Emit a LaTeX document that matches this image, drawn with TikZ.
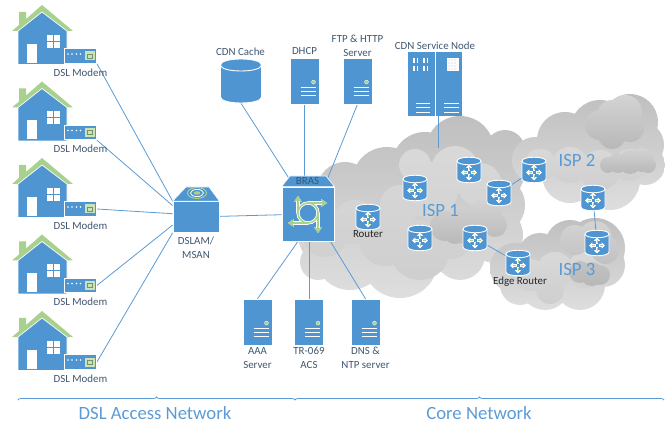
\documentclass[tikz,border=0pt]{standalone}
\usepackage{fontspec}
\setmainfont{Carlito}
\usetikzlibrary{arrows.meta,backgrounds,calc,decorations.pathreplacing}

\definecolor{NetBlue}{HTML}{4F95D1}
\definecolor{LinkBlue}{HTML}{5B9BD5}
\definecolor{RoofGreen}{HTML}{A9D18E}
\definecolor{LabelSlate}{HTML}{3F5670}

\newcommand{\CanBody}[3]{%
\filldraw [fill=NetBlue,draw=white,line width=.9pt] (-#1,-#2) -- (-#1,#2) .. controls (-#1,#2+#3) and (#1,#2+#3) .. (#1,#2) -- (#1,-#2) .. controls (#1,-#2-#3) and (-#1,-#2-#3) .. cycle;
\draw [white,line width=.9pt] (-#1,-#2) .. controls (-#1,-#2+#3) and (#1,-#2+#3) .. (#1,-#2);}

\tikzset{
linkline/.style={draw=LinkBlue,line width=.8pt},
modembox/.style={rectangle,fill=NetBlue,draw=white,line width=.8pt,minimum width=32pt,minimum height=14.5pt,inner sep=0pt},
serverbox/.style={rectangle,fill=NetBlue,draw=white,line width=.4pt,minimum width=29pt,minimum height=46pt,inner sep=0pt},
routerbox/.style={rectangle,minimum width=25pt,minimum height=25pt,inner sep=0pt},
netlabel/.style={font=\fontsize{10.9pt}{14pt}\selectfont,text=LabelSlate,align=center,inner sep=0pt},
routerlabel/.style={font=\fontsize{10.9pt}{12pt}\selectfont,text=black!85,inner sep=0pt},
ispname/.style={font=\fontsize{18.7pt}{20pt}\selectfont,text=LinkBlue,inner sep=0pt},
cloudouter/.style={top color=black!25,bottom color=black!13},
cloudinner/.style={top color=black!15,bottom color=black!19},
clouddark/.style={top color=black!17,bottom color=black!28},
bracket/.style={draw=LinkBlue,line width=.8pt,decorate,decoration={brace,amplitude=3pt,mirror}},
}

\begin{document}
\begin{tikzpicture}[x=1pt,y=-1pt]
\useasboundingbox (0,0) rectangle (665,425);

% clients
\foreach \i in {1,...,5} {
\pgfmathsetmacro{\dy}{(\i-1)*76.5}
\begin{scope}[yshift=-\dy pt]
\fill [RoofGreen] (12,31) -- (19,25) -- (19,12) -- (26,12) -- (26,19) -- (42,5) -- (73,31) -- cycle;
\fill [NetBlue,draw=white,line width=.7pt] (18,64.5) -- (18,31) -- (42,12) -- (67,31) -- (67,64.5) -- cycle;
\fill [white] (27,44) rectangle (37,63);
\foreach \wx/\wy in {47/35,54/35,47/42,54/42} \fill [white] (\wx,\wy) rectangle ++(6,6);
\node [modembox] (Modem\i) at (80.5,56) {};
\foreach \lx in {68,72,76.5,80.5} \fill [white] (\lx,54) circle (.8);
\fill [RoofGreen!60!white] (85,51.5) rectangle (94.5,60.5);
\draw [RoofGreen!70!black,line width=.3pt] (87.5,54) rectangle (92,58);
\node [netlabel] (ModemLabel\i) at (80.5,72.5) {DSL Modem};
\end{scope}
}

% access node
\node [rectangle,fill=NetBlue,draw=white,line width=.8pt,minimum width=46pt,minimum height=31pt,inner sep=0pt] (Dslam) at (196,217) {};
\filldraw [fill=NetBlue,draw=white,line width=.6pt] (Dslam.north west) -- (186,187) -- (209,187) -- (Dslam.north east) -- cycle;
\draw [RoofGreen,line width=1pt] (197,193) ellipse (9.5 and 5.5);
\draw [white,line width=.8pt] (197,193) ellipse (6.5 and 3.6);
\fill [RoofGreen] (197,193) ellipse (3.4 and 1.8);
\node [netlabel,anchor=north] (DslamLabel) at (196,236.5) {DSLAM/\\MSAN};

% bras
\node [rectangle,fill=NetBlue,draw=white,line width=.8pt,minimum width=52pt,minimum height=54pt,inner sep=0pt] (Bras) at (308,214) {};
\filldraw [fill=NetBlue,draw=white,line width=.6pt] (Bras.north west) -- (290,176) -- (326,176) -- (Bras.north east) -- cycle;
\coordinate (BrasTopLeft) at (290,180);
\coordinate (BrasTopRight) at (327,180);
\node [netlabel,text=NetBlue!60!black] (BrasLabel) at (307.5,181.5) {BRAS};
\foreach \lw/\lc in {3.2/white,1.5/RoofGreen} {
\draw [\lc,line width=\lw pt] (308,213) circle (10);
\draw [\lc,line width=\lw pt,-{Stealth[length=6pt,width=8pt]}] (298,213) -- (298,196);
\draw [\lc,line width=\lw pt,-{Stealth[length=6pt,width=8pt]}] (308,203) -- (327,203);
\draw [\lc,line width=\lw pt,-{Stealth[length=6pt,width=8pt]}] (308,223) -- (288,223);
\draw [\lc,line width=\lw pt,-{Stealth[length=6pt,width=8pt]}] (318,213) -- (318,233);
}

% servers
\node [rectangle,minimum width=41pt,minimum height=44pt,inner sep=0pt] (CdnCache) at (241,81) {};
\begin{scope}[shift={(CdnCache.center)}]
\CanBody{20.5}{16}{8}
\end{scope}
\node [netlabel] (CdnCacheLabel) at (240.5,51.5) {CDN Cache};
\node [serverbox] (Dhcp) at (304.5,81) {};
\node [netlabel] (DhcpLabel) at (304.5,51.5) {DHCP};
\node [serverbox] (FtpHttp) at (357.5,81) {};
\node [netlabel,anchor=south] (FtpHttpLabel) at (357.5,57) {FTP \& HTTP\\Server};
\node [serverbox] (Aaa) at (257.5,322) {};
\node [netlabel,anchor=north] (AaaLabel) at (257.5,347) {AAA\\Server};
\node [serverbox] (Tr069) at (309,322) {};
\node [netlabel,anchor=north] (Tr069Label) at (309,347) {TR-069\\ACS};
\node [serverbox] (Dns) at (365.5,322) {};
\node [netlabel,anchor=north] (DnsLabel) at (365.5,347) {DNS \&\\NTP server};
\foreach \srv in {Dhcp,FtpHttp,Aaa,Tr069,Dns} {
\begin{scope}[shift={(\srv.north west)}]
\fill [RoofGreen,draw=white,line width=.3pt] (23.7,24.3) circle (2);
\foreach \ly in {30,34,38} \draw [white,line width=.9pt] (10.7,\ly) -- (25.7,\ly);
\end{scope}
}

% service node
\node [rectangle,fill=NetBlue,minimum width=27pt,minimum height=64pt,inner sep=0pt] (CdnLeft) at (421.5,84) {};
\node [rectangle,fill=NetBlue,minimum width=26.5pt,minimum height=64pt,inner sep=0pt] (CdnRight) at (449,84) {};
\foreach \ly in {103,107.5,112} {
\draw [white,line width=.9pt] (416,\ly) -- (430,\ly);
\draw [white,line width=.9pt] (444,\ly) -- (459,\ly);
}
\foreach \lx in {413,416.5,423,426.5} \foreach \ly in {58,66} \fill [white] (\lx,\ly) rectangle ++(1.5,5);
\fill [white] (447,58) rectangle (459,71);
\foreach \lx in {449,452,455} \foreach \ly in {60,63,66,69} \fill [black!25] (\lx,\ly) circle (.6);
\node [netlabel] (CdnNodeLabel) at (435,45.5) {CDN Service Node};
\coordinate (CdnCore) at (438,148);

% routers
\foreach \i/\rx/\ry in {1/368/217,2/415/188,3/469/170,4/499/193,5/534/170,6/420/238,7/475/238,8/518/263,9/593/198,10/597/243} {
\node [routerbox] (Router\i) at (\rx,\ry) {};
\begin{scope}[shift={(Router\i.center)}]
\CanBody{12}{9}{5}
\foreach \ang in {0,90,180,270} {
\begin{scope}[yshift=-2.5pt,rotate=\ang]
\draw [white,line width=2.4pt,-{Triangle[length=3.4pt,width=6pt]}] (1.5,0) -- (8,0);
\draw [RoofGreen,line width=.8pt] (2.5,0) -- (5.5,0);
\end{scope}
}
\end{scope}
}
\node [routerlabel] (RouterLabel) at (368,234) {Router};
\node [routerlabel] (EdgeRouterLabel) at (520,281.5) {Edge Router};
\node [ispname] (Isp1) at (440.5,210) {ISP 1};
\node [ispname] (Isp2) at (577,160) {ISP 2};
\node [ispname] (Isp3) at (577,269) {ISP 3};

% network parts
\coordinate (AccessLeft) at (18,400);
\coordinate (AccessRight) at (295,400);
\coordinate (CoreRight) at (664,400);
\draw [bracket] (AccessRight) -- (AccessLeft);
\draw [bracket] (CoreRight) -- (AccessRight);
\node [ispname] (AccessLabel) at (155,413) {DSL Access Network};
\node [ispname] (CoreLabel) at (479,413) {Core Network};

\begin{scope}[on background layer]
% clouds
\shade [cloudouter] foreach \cx/\cy/\cr in {330/235/32,345/190/28,387/182/35,425/165/33,460/150/34,490/170/35,495/205/30,495/235/28,460/255/25,400/260/38,350/255/35,430/210/60,318/262/18,505/150/20} {(\cx,\cy) circle (\cr)};
\shade [cloudinner] foreach \cx/\cy/\cr in {325/235/22,355/222/22,385/240/26,420/250/30,450/235/24,400/205/20,430/190/28,455/170/24,480/185/22,415/165/16} {(\cx,\cy) circle (\cr)};
\shade [clouddark] foreach \cx/\cy/\cr in {445/226/15,465/220/14,485/216/17,495/225/12,470/235/12,455/232/12} {(\cx,\cy) circle (\cr)};
\shade [cloudouter] foreach \cx/\cy/\cr in {515/268/25,540/255/22,570/245/25,595/248/30,603/265/22,580/285/25,545/285/25,520/285/20} {(\cx,\cy) circle (\cr)};
\shade [cloudinner] foreach \cx/\cy/\cr in {530/275/16,555/270/18,585/270/18,550/290/14} {(\cx,\cy) circle (\cr)};
\shade [clouddark] foreach \cx/\cy/\cr in {575/240/15,595/238/17,605/250/14,580/272/11,592/274/12,600/275/10} {(\cx,\cy) circle (\cr)};
\shade [cloudouter] foreach \cx/\cy/\cr in {535/160/23,565/140/28,600/130/30,630/122/28,640/145/24,645/165/20,610/180/30,570/175/28,600/155/40} {(\cx,\cy) circle (\cr)};
\shade [cloudinner] foreach \cx/\cy/\cr in {540/165/16,570/165/18,600/170/20,630/165/16} {(\cx,\cy) circle (\cr)};
\shade [clouddark] foreach \cx/\cy/\cr in {600/125/15,612/115/15,625/112/17,630/128/14,612/135/14} {(\cx,\cy) circle (\cr)};
\shade [clouddark] foreach \cx/\cy/\cr in {608/165/8,618/163/10,630/162/12,642/160/12,648/165/8} {(\cx,\cy) circle (\cr)};

% links
\foreach \i/\from/\to in {1/south east/north west,2/south east/154,3/east/172,4/east/199,5/east/south west}
\draw [linkline] (Modem\i.\from) -- (Dslam.\to);
\draw [linkline] (Dslam) -- (Bras);
\draw [linkline] (CdnCache.south) -- (BrasTopLeft);
\draw [linkline] (Dhcp) -- (Bras.north -| Dhcp);
\draw [linkline] (FtpHttp.south) -- (BrasTopRight);
\draw [linkline] (Aaa.north) -- ($(Bras.south)+(-10,0)$);
\draw [linkline] (Tr069) -- (Bras.south -| Tr069);
\draw [linkline] (Dns.north) -- ($(Bras.south east)+(-4,0)$);
\draw [linkline] (CdnCore |- CdnRight.south) -- (CdnCore);
\draw [linkline] (Router7) -- (Router8);
\draw [linkline] (Router4) -- (Router5);
\draw [linkline] (Router9) -- (Router10);
\end{scope}
\end{tikzpicture}
\end{document}
